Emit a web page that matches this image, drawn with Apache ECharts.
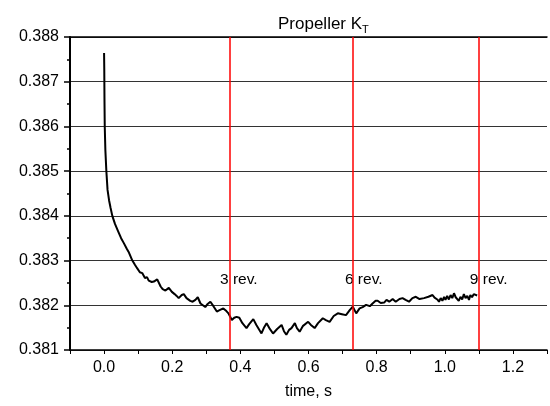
<!DOCTYPE html>
<html>
<head>
<meta charset="utf-8">
<script src="https://cdn.jsdelivr.net/npm/echarts@6/dist/echarts.min.js"></script>
<style>html,body{margin:0;padding:0;background:#fff}#c{width:550px;height:406px}</style>
</head>
<body>
<div id="c"></div>
<script>
var times = [0.000,0.0006,0.0012,0.002,0.0038,0.0067,0.0102,0.0146,0.019,0.0242,0.032,0.041,0.050,0.058,0.067,0.073,0.083,0.091,0.097,0.105,0.112,0.120,0.126,0.131,0.140,0.146,0.156,0.166,0.172,0.180,0.190,0.199,0.207,0.213,0.219,0.228,0.234,0.242,0.253,0.260,0.268,0.275,0.283,0.297,0.304,0.312,0.321,0.331,0.339,0.350,0.359,0.365,0.375,0.382,0.389,0.397,0.406,0.418,0.426,0.438,0.447,0.462,0.470,0.477,0.485,0.496,0.508,0.521,0.528,0.535,0.543,0.550,0.560,0.566,0.574,0.584,0.599,0.607,0.618,0.628,0.642,0.651,0.662,0.674,0.686,0.698,0.710,0.721,0.730,0.740,0.750,0.759,0.769,0.780,0.788,0.797,0.803,0.812,0.822,0.829,0.837,0.847,0.856,0.867,0.876,0.885,0.895,0.905,0.915,0.926,0.939,0.952,0.964,0.970,0.978,0.983,0.988,0.993,0.998,1.002,1.007,1.012,1.017,1.022,1.027,1.032,1.036,1.041,1.046,1.051,1.056,1.061,1.066,1.071,1.075,1.080,1.085,1.090,1.095];
var kt = [0.38764,0.38726,0.38659,0.38600,0.38547,0.38500,0.38458,0.38435,0.38418,0.38400,0.38382,0.38366,0.38350,0.38339,0.38326,0.38318,0.38300,0.38290,0.38283,0.38274,0.38272,0.38261,0.38263,0.38255,0.38252,0.38253,0.38258,0.38242,0.38236,0.38233,0.38239,0.38230,0.38225,0.38221,0.38216,0.38223,0.38225,0.38216,0.38210,0.38208,0.38212,0.38218,0.38204,0.38196,0.38203,0.38208,0.38198,0.38186,0.38189,0.38193,0.38187,0.38182,0.38167,0.38172,0.38174,0.38172,0.38160,0.38149,0.38158,0.38169,0.38156,0.38137,0.38151,0.38160,0.38149,0.38137,0.38147,0.38156,0.38142,0.38134,0.38145,0.38149,0.38160,0.38149,0.38141,0.38154,0.38163,0.38156,0.38149,0.38160,0.38171,0.38167,0.38163,0.38176,0.38182,0.38180,0.38178,0.38189,0.38197,0.38182,0.38193,0.38196,0.38201,0.38198,0.38204,0.38210,0.38210,0.38205,0.38206,0.38212,0.38208,0.38214,0.38208,0.38214,0.38216,0.38212,0.38208,0.38216,0.38219,0.38214,0.38216,0.38219,0.38223,0.38217,0.38213,0.38208,0.38216,0.38210,0.38219,0.38212,0.38221,0.38213,0.38223,0.38216,0.38227,0.38218,0.38221,0.38210,0.38219,0.38213,0.38225,0.38216,0.38221,0.38212,0.38223,0.38218,0.38225,0.38221,0.38222];
var revTimes = [0.3667, 0.7333, 1.1];
var revLabels = ['3 rev.', '6 rev.', '9 rev.'];
var revLabelY = 0.38257;
var titleMain = 'Propeller K';
var titleSub = 'T';
var xName = 'time, s';

var lineData = times.map(function (t, i) { return [t, kt[i]]; });
var labelData = revTimes.map(function (t, i) { return { value: [t, revLabelY], label: { formatter: revLabels[i] } }; });
var FONT = 'Arial, "Liberation Sans", sans-serif';

var chart = echarts.init(document.getElementById('c'), null, { renderer: 'canvas' });
chart.setOption({
  animation: false,
  backgroundColor: '#fff',
  title: {
    text: '{a|' + titleMain + '}{s|' + titleSub + '}',
    left: 273, top: 8,
    textStyle: {
      rich: {
        a: { fontFamily: FONT, fontSize: 17, color: '#000', fontWeight: 'normal' },
        s: { fontFamily: FONT, fontSize: 11, color: '#000', padding: [11, 0, 0, 0], fontWeight: 'normal' }
      }
    }
  },
  grid: { left: 70, right: -1, top: 37, bottom: 56, containLabel: false },
  xAxis: [{
    type: 'value', min: -0.1, max: 1.3, interval: 0.1,
    name: xName, nameLocation: 'middle', nameGap: 34,
    nameTextStyle: { fontFamily: FONT, fontSize: 16, color: '#000' },
    axisLine: { show: true, onZero: false, lineStyle: { color: '#000', width: 1.5 } },
    axisTick: { show: true, inside: false, length: 4, lineStyle: { color: '#000', width: 1 } },
    axisLabel: {
      margin: 10, fontFamily: FONT, fontSize: 16, color: '#000',
      formatter: function (v) { var k = Math.round(v * 10); return (k % 2 === 0) ? (k / 10).toFixed(1) : ''; }
    },
    splitLine: { show: false }
  }, {
    type: 'value', position: 'top', min: -0.1, max: 1.3, interval: 0.1,
    axisLine: { show: true, onZero: false, lineStyle: { color: '#000', width: 1.5 } },
    axisTick: { show: false }, axisLabel: { show: false }, splitLine: { show: false }
  }],
  yAxis: {
    type: 'value', min: 0.381, max: 0.388, interval: 0.001,
    axisLine: { show: true, onZero: false, lineStyle: { color: '#000', width: 2 } },
    axisTick: { show: true, inside: false, length: 6, lineStyle: { color: '#000', width: 1.5 } },
    minorTick: { show: true, splitNumber: 2, length: 3, lineStyle: { color: '#000', width: 1.5 } },
    axisLabel: { margin: 11, fontFamily: FONT, fontSize: 16, color: '#000', formatter: function (v) { return v.toFixed(3); } },
    splitLine: { show: true, lineStyle: { color: '#333', width: 1 } }
  },
  series: [{
    type: 'line', data: lineData, showSymbol: false, symbol: 'none',
    lineStyle: { color: '#000', width: 2 },
    z: 3,
    markLine: {
      silent: true, symbol: ['none', 'none'],
      label: { show: false },
      lineStyle: { color: '#ff0000', width: 1.5, type: 'solid' },
      data: revTimes.map(function (t) { return { xAxis: t }; })
    }
  }, {
    type: 'scatter', data: labelData, symbolSize: 0, z: 4,
    itemStyle: { opacity: 1 },
    label: {
      show: true, position: 'right', distance: 0, offset: [-9, 0],
      fontFamily: FONT, fontSize: 15.5, color: '#000', opacity: 1
    }
  }]
});
</script>
</body>
</html>
